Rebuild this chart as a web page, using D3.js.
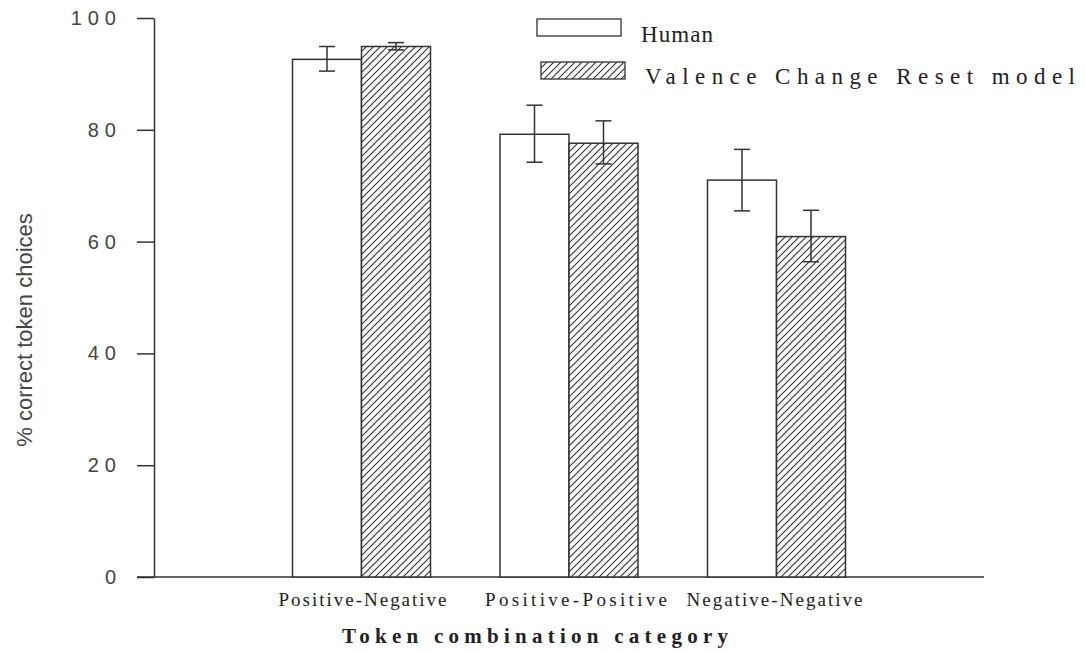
<!DOCTYPE html>
<html lang="en">
<head>
    <meta charset="UTF-8">
    <title>Token combination category</title>

    <style>
        body {
            margin: 0;
            background: #fff;
        }

        .axis path,
        .axis line {
            stroke: #333;
            stroke-width: 1.5px;
        }

        .yTick {
            font-family: 'Liberation Sans', Arial, sans-serif;
            font-size: 20px;
            fill: #444;
            letter-spacing: 6px;
        }

        .catLabel {
            font-family: 'Liberation Serif', 'Times New Roman', serif;
            font-size: 19px;
            fill: #222;
        }

        .bar {
            stroke: #333;
            stroke-width: 1.5px;
        }

        .err {
            stroke: #333;
            stroke-width: 1.5px;
        }

        .legendText {
            font-family: 'Liberation Serif', 'Times New Roman', serif;
            font-size: 23px;
            fill: #222;
        }
    </style>
</head>
<body>

<script src="https://d3js.org/d3.v7.min.js"></script>

<script>

    const width = 1085;
    const height = 653;

    const categories = ['Positive-Negative', 'Positive-Positive', 'Negative-Negative'];
    const seriesNames = ['Human', 'Valence Change Reset model'];

    // bar heights and error bar ends
    const humanMean = [92.6, 79.2, 71.0];
    const humanLow = [90.5, 74.2, 65.5];
    const humanHigh = [94.9, 84.4, 76.5];

    const modelMean = [94.9, 77.6, 60.9];
    const modelLow = [94.3, 73.9, 56.4];
    const modelHigh = [95.6, 81.6, 65.6];

    const yTicks = [0, 20, 40, 60, 80, 100];

    const margin = {'left': 154, 'right': 984, 'top': 18, 'bottom': 577};
    const barW = 69;
    // spread of each category label, so they line up with the picture
    const labelLen = {'Positive-Negative': 168, 'Positive-Positive': 182, 'Negative-Negative': 176};
    const labelShift = {'Positive-Negative': 1, 'Positive-Positive': 7, 'Negative-Negative': -2};

    let svg = d3.select('body').append('svg')
        .attr('width', width)
        .attr('height', height);

    let defs = svg.append('defs');
    let hatch = defs.append('pattern')
        .attr('id', 'hatch')
        .attr('patternUnits', 'userSpaceOnUse')
        .attr('width', 7)
        .attr('height', 7);
    hatch.append('rect')
        .attr('width', 7)
        .attr('height', 7)
        .style('fill', '#fff');
    hatch.append('path')
        .attr('d', 'M0,7 L7,0 M-1,1 L1,-1 M6,8 L8,6')
        .style('stroke', '#333')
        .style('stroke-width', 1.1);

    let x = d3.scalePoint()
        .domain(categories)
        .range([margin.left, margin.right])
        .padding(1);

    let y = d3.scaleLinear()
        .domain([0, 100])
        .range([margin.bottom, margin.top]);

    // y axis
    svg.append('g')
        .attr('class', 'axis')
        .attr('transform', 'translate(' + margin.left + ',0)')
        .call(d3.axisLeft(y).tickValues(yTicks).tickSize(17).tickSizeOuter(0).tickFormat(''));

    svg.append('g').selectAll('text')
        .data(yTicks)
        .enter().append('text')
        .attr('class', 'yTick')
        .attr('x', 122)
        .attr('y', function(d) { return y(d); })
        .attr('dy', '0.35em')
        .attr('text-anchor', 'end')
        .text(function(d) { return d; });

    // x axis line
    svg.append('line')
        .attr('x1', 137)
        .attr('x2', margin.right)
        .attr('y1', y(0))
        .attr('y2', y(0))
        .style('stroke', '#333')
        .style('stroke-width', 1.5);

    let series = [
        {'mean': humanMean, 'low': humanLow, 'high': humanHigh, 'fill': '#fff', 'off': -barW},
        {'mean': modelMean, 'low': modelLow, 'high': modelHigh, 'fill': 'url(#hatch)', 'off': 0}
    ];

    let bars = svg.append('g');
    let errs = svg.append('g');

    series.forEach(function(s) {
        bars.selectAll(null)
            .data(categories)
            .enter().append('rect')
            .attr('class', 'bar')
            .attr('x', function(d) { return x(d) + s.off; })
            .attr('y', function(d, i) { return y(s.mean[i]); })
            .attr('width', barW)
            .attr('height', function(d, i) { return y(0) - y(s.mean[i]); })
            .style('fill', s.fill);

        categories.forEach(function(c, i) {
            let cx = x(c) + s.off + barW / 2;
            errs.append('line').attr('class', 'err')
                .attr('x1', cx).attr('x2', cx)
                .attr('y1', y(s.high[i])).attr('y2', y(s.low[i]));
            errs.append('line').attr('class', 'err')
                .attr('x1', cx - 8).attr('x2', cx + 8)
                .attr('y1', y(s.high[i])).attr('y2', y(s.high[i]));
            errs.append('line').attr('class', 'err')
                .attr('x1', cx - 8).attr('x2', cx + 8)
                .attr('y1', y(s.low[i])).attr('y2', y(s.low[i]));
        });
    });

    // category labels
    svg.append('g').selectAll('text')
        .data(categories)
        .enter().append('text')
        .attr('class', 'catLabel')
        .attr('x', function(d) { return x(d) + labelShift[d]; })
        .attr('y', 606)
        .attr('text-anchor', 'middle')
        .attr('textLength', function(d) { return labelLen[d]; })
        .attr('lengthAdjust', 'spacing')
        .text(function(d) { return d; });

    // x title
    svg.append('text')
        .attr('x', 342)
        .attr('y', 643)
        .attr('textLength', 386)
        .attr('lengthAdjust', 'spacing')
        .style('font-family', "'Liberation Serif', 'Times New Roman', serif")
        .style('font-size', '21px')
        .style('font-weight', 'bold')
        .style('fill', '#222')
        .text('Token combination category');

    // y title
    svg.append('text')
        .attr('transform', 'translate(32,330) rotate(-90)')
        .attr('text-anchor', 'middle')
        .style('font-family', "'Liberation Sans', Arial, sans-serif")
        .style('font-size', '22px')
        .style('fill', '#444')
        .text('% correct token choices');

    // legend
    let legend = svg.append('g');
    let legendRows = [
        {'name': seriesNames[0], 'fill': '#fff', 'bx': 537, 'by': 19, 'tx': 641, 'ty': 42, 'len': 72},
        {'name': seriesNames[1], 'fill': 'url(#hatch)', 'bx': 541, 'by': 62, 'tx': 645, 'ty': 84, 'len': 430}
    ];

    legend.selectAll('rect')
        .data(legendRows)
        .enter().append('rect')
        .attr('x', function(d) { return d.bx; })
        .attr('y', function(d) { return d.by; })
        .attr('width', 84)
        .attr('height', 17)
        .style('fill', function(d) { return d.fill; })
        .style('stroke', '#333')
        .style('stroke-width', 1.3);

    legend.selectAll('text')
        .data(legendRows)
        .enter().append('text')
        .attr('class', 'legendText')
        .attr('x', function(d) { return d.tx; })
        .attr('y', function(d) { return d.ty; })
        .attr('textLength', function(d) { return d.len; })
        .attr('lengthAdjust', 'spacing')
        .text(function(d) { return d.name; });

</script>

</body>
</html>
